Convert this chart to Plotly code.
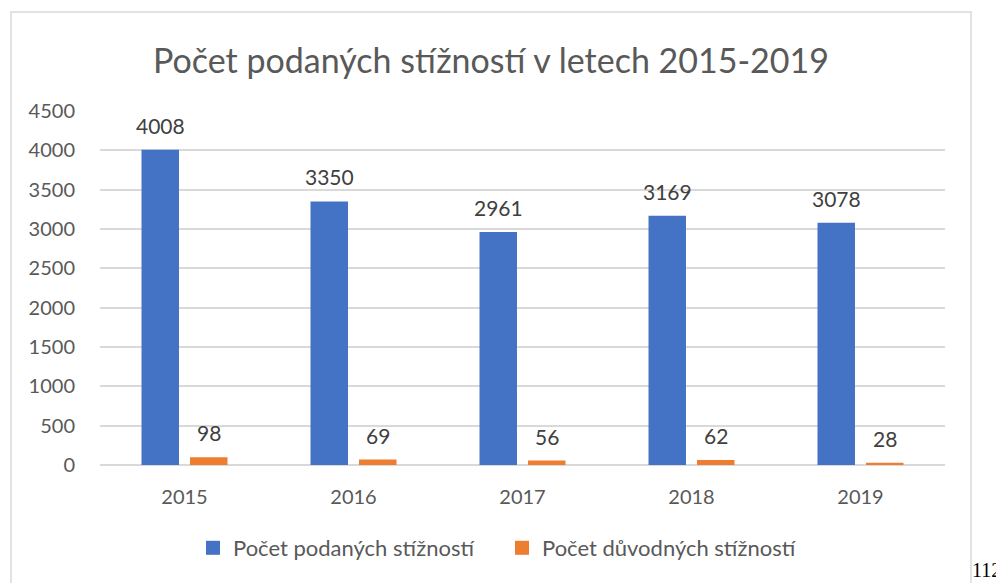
import plotly.graph_objects as go

years = ["2015", "2016", "2017", "2018", "2019"]
podane = [4008, 3350, 2961, 3169, 3078]
duvodne = [98, 69, 56, 62, 28]
series_names = ["Počet podaných stížností", "Počet důvodných stížností"]
title_text = "Počet podaných stížností v letech 2015-2019"
y_ticks = [0, 500, 1000, 1500, 2000, 2500, 3000, 3500, 4000, 4500]

BLUE = "#4472C4"
ORANGE = "#ED7D31"
FONT = "Lato"
GRAY = "#595959"

# the page body has an 8px margin, so the figure is drawn 8px in from the corner
OFF = 8
W, H = 1004 - OFF, 583 - OFF
PL, PR, PT, PB = 100, 945, 111, 465  # plot area in screen pixels
L, R, T, B = PL - OFF, W - (PR - OFF), PT - OFF, H - (PB - OFF)

fig = go.Figure()
fig.add_trace(go.Bar(x=years, y=podane, name=series_names[0], marker_color=BLUE,
                     marker_line_width=0, showlegend=False))
fig.add_trace(go.Bar(x=years, y=duvodne, name=series_names[1], marker_color=ORANGE,
                     marker_line_width=0, showlegend=False))
# legend proxies with square symbols
for name, col in zip(series_names, (BLUE, ORANGE)):
    fig.add_trace(go.Scatter(x=[None], y=[None], mode="markers", name=name,
                             marker=dict(symbol="square", size=14, color=col)))

# category axis: annotation x given as category serial index
for vals, shift in ((podane, -24), (duvodne, 24)):
    for i, v in enumerate(vals):
        fig.add_annotation(x=i, y=v, text=str(v), showarrow=False, xref="x", yref="y",
                           xshift=shift, yanchor="bottom", yshift=10,
                           font=dict(family=FONT, size=21, color="#404040"))

pw = W - L - R
ph = H - T - B
def px(x):
    return (x - OFF - L) / pw
def py(y):
    return (H - B - (y - OFF)) / ph

fig.add_shape(type="rect", xref="paper", yref="paper",
              x0=px(11), x1=px(971), y0=py(12), y1=py(600),
              line=dict(color="#D9D9D9", width=1.5), layer="below")

fig.add_annotation(text=title_text, xref="paper", yref="paper", x=px(491), y=py(60),
                   showarrow=False, xanchor="center", yanchor="middle",
                   font=dict(family=FONT, size=34, color=GRAY))
fig.add_annotation(text="112", xref="paper", yref="paper", x=px(1003), y=py(570),
                   showarrow=False, xanchor="right", yanchor="middle",
                   font=dict(family="Liberation Serif", size=20, color="#000000"))

fig.update_layout(
    width=W, height=H,
    margin=dict(l=L, r=R, t=T, b=B, autoexpand=False),
    paper_bgcolor="white", plot_bgcolor="white",
    barmode="group", bargap=0.426, bargroupgap=0.227,
    showlegend=True,
    legend=dict(orientation="h", x=px(193), xanchor="left", y=py(548), yanchor="middle",
                font=dict(family=FONT, size=22, color=GRAY), itemwidth=30,
                entrywidth=264, entrywidthmode="pixels",
                traceorder="normal"),
    font=dict(family=FONT, color=GRAY),
)
fig.update_yaxes(range=[0, 4500], tickvals=y_ticks, showgrid=True, gridcolor="#D9D9D9",
                 gridwidth=1.5, zeroline=True, zerolinecolor="#D9D9D9", zerolinewidth=1.5,
                 showline=False, ticks="", ticklabelstandoff=24, automargin=False,
                 tickfont=dict(family=FONT, size=20, color=GRAY))
fig.update_xaxes(type="category", range=[-0.5, 4.5], showgrid=False, showline=False,
                 ticks="", ticklabelstandoff=18, automargin=False,
                 tickfont=dict(family=FONT, size=20, color=GRAY))

fig.write_html("out.html")
